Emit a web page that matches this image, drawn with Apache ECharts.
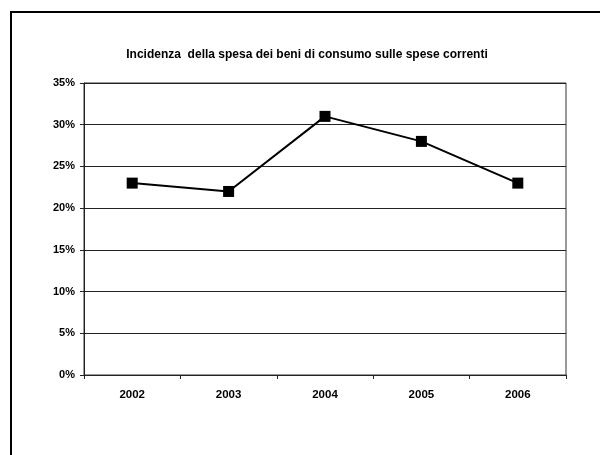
<!DOCTYPE html>
<html><head><meta charset="utf-8">
<script src="https://cdn.jsdelivr.net/npm/echarts@6/dist/echarts.min.js"></script>
<style>html,body{margin:0;padding:0;background:#fff}#c{width:600px;height:455px}</style>
</head><body><div id="c"></div>
<script>
var titleText = 'Incidenza  della spesa dei beni di consumo sulle spese correnti';
var years = ['2002','2003','2004','2005','2006'];
var incidenza = [23, 22, 31, 28, 23];

var chart = echarts.init(document.getElementById('c'));
chart.setOption({
  animation: false,
  backgroundColor: '#fff',
  title: {
    text: titleText, left: 302, textAlign: 'center', top: 44,
    textStyle: {fontFamily: 'Liberation Sans, Arial', fontSize: 12, fontWeight: 'bold', color: '#000'}
  },
  grid: {left: 84, right: 34, top: 83, bottom: 80, show: true, borderColor: '#333', borderWidth: 1},
  xAxis: {
    type: 'category', data: years, boundaryGap: true,
    axisLine: {lineStyle: {color: '#222', width: 1}},
    axisTick: {show: true, length: 4, inside: false, lineStyle: {color: '#222'}},
    axisLabel: {color: '#000', fontFamily: 'Liberation Sans, Arial', fontWeight: 'bold', fontSize: 11.5, margin: 14}
  },
  yAxis: {
    type: 'value', min: 0, max: 35, interval: 5,
    axisLine: {show: true, lineStyle: {color: '#222'}},
    axisTick: {show: true, length: 4, lineStyle: {color: '#222'}},
    axisLabel: {formatter: '{value}%', color: '#000', fontFamily: 'Liberation Sans, Arial', fontWeight: 'bold', fontSize: 11, margin: 9},
    splitLine: {lineStyle: {color: '#222', width: 1}}
  },
  series: [{
    type: 'line', data: incidenza,
    symbol: 'rect', symbolSize: 11,
    lineStyle: {color: '#000', width: 2},
    itemStyle: {color: '#000'}
  }],
  graphic: [
    {type: 'line', shape: {x1: 10, y1: 12, x2: 600, y2: 12}, style: {stroke: '#000', lineWidth: 2}},
    {type: 'line', shape: {x1: 11, y1: 12, x2: 11, y2: 455}, style: {stroke: '#000', lineWidth: 2}}
  ]
});
</script></body></html>
